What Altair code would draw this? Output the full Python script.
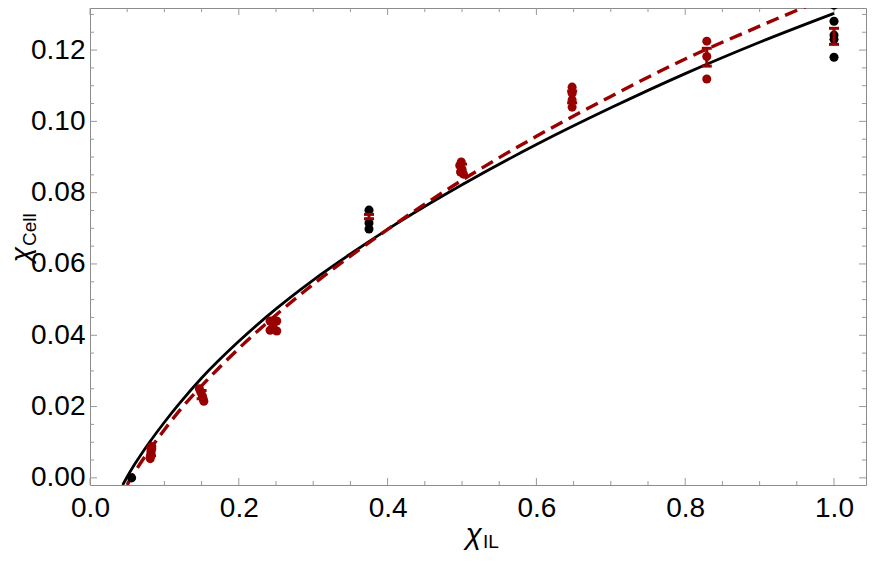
import altair as alt
import pandas as pd

RED = "#990000"
BLACK = "#000000"

# ---- fitted curves ----
black_curve_x = [0.044, 0.05, 0.06, 0.07, 0.08, 0.10, 0.12, 0.15, 0.20, 0.25, 0.30, 0.35, 0.40, 0.50, 0.60, 0.70, 0.80, 0.90, 1.00]
black_curve_y = [-0.0020, 0.0003, 0.0038, 0.0070, 0.0100, 0.0156, 0.0208, 0.0280, 0.0383, 0.0474, 0.0555, 0.0628, 0.0697, 0.0822, 0.0935, 0.1038, 0.1134, 0.1222, 0.1303]

red_curve_x = [0.050, 0.055, 0.06, 0.07, 0.08, 0.10, 0.12, 0.15, 0.20, 0.25, 0.30, 0.35, 0.40, 0.50, 0.60, 0.70, 0.80, 0.90, 1.00]
red_curve_y = [-0.0020, 0.0000, 0.0016, 0.0048, 0.0078, 0.0135, 0.0188, 0.0258, 0.0363, 0.0457, 0.0543, 0.0622, 0.0697, 0.0835, 0.0958, 0.1070, 0.1175, 0.1267, 0.1355]

# ---- measured points ----
black_pts_x = [0.056, 0.375, 0.375, 0.375, 1.0, 1.0, 1.0, 1.0, 1.0]
black_pts_y = [0.0000, 0.0751, 0.0715, 0.0698, 0.1326, 0.1281, 0.1242, 0.1230, 0.1180]

red_pts_x = [0.083, 0.083, 0.082, 0.082, 0.081, 0.081,
             0.147, 0.149, 0.151, 0.152, 0.153,
             0.242, 0.251, 0.246, 0.242, 0.251,
             0.499, 0.497, 0.500, 0.498, 0.502,
             0.648, 0.648, 0.648, 0.648,
             0.829, 0.829, 0.829]
red_pts_y = [0.0088, 0.0082, 0.0075, 0.0068, 0.0060, 0.0054,
             0.0250, 0.0240, 0.0230, 0.0222, 0.0215,
             0.0440, 0.0440, 0.0426, 0.0414, 0.0412,
             0.0886, 0.0876, 0.0866, 0.0858, 0.0852,
             0.1096, 0.1079, 0.1060, 0.1040,
             0.1225, 0.1182, 0.1119]

# ---- red error bars ----
err_x = [0.082, 0.150, 0.247, 0.375, 0.500, 0.648, 0.829, 1.000]
err_lo = [0.0062, 0.0222, 0.0418, 0.0727, 0.0858, 0.1052, 0.1155, 0.1216]
err_hi = [0.0084, 0.0245, 0.0438, 0.0739, 0.0880, 0.1085, 0.1205, 0.1261]

# ---- frame ticks ----
x_major = [0.0, 0.2, 0.4, 0.6, 0.8, 1.0]
x_minor = [0.05, 0.10, 0.15, 0.25, 0.30, 0.35, 0.45, 0.50, 0.55, 0.65, 0.70, 0.75, 0.85, 0.90, 0.95]
y_major = [0.00, 0.02, 0.04, 0.06, 0.08, 0.10, 0.12]
y_minor = [0.005, 0.010, 0.015, 0.025, 0.030, 0.035, 0.045, 0.050, 0.055, 0.065, 0.070, 0.075,
           0.085, 0.090, 0.095, 0.105, 0.110, 0.115, 0.125, 0.130]

W, H = 776, 477
FONT = "Liberation Sans"

xs = alt.Scale(domain=[0, 1.043], nice=False, zero=False)
ys = alt.Scale(domain=[-0.002, 0.1318], nice=False, zero=False)
xax = alt.Axis(values=x_major, format=".1f", title=None, labelFontSize=28, labelFont=FONT,
               labelColor="black", tickSize=0, domain=False, grid=False, labelPadding=9,
               labelFlush=False, labelOverlap=False)
yax = alt.Axis(values=y_major, format=".2f", title=None, labelFontSize=28, labelFont=FONT,
               labelColor="black", tickSize=0, domain=False, grid=False, labelPadding=5,
               labelFlush=False, labelOverlap=False)

def X(f="x"):
    return alt.X(f"{f}:Q", scale=xs, axis=xax)

def Y(f="y"):
    return alt.Y(f"{f}:Q", scale=ys, axis=yax)

black_curve = alt.Chart(pd.DataFrame({"x": black_curve_x, "y": black_curve_y})).mark_line(
    color=BLACK, strokeWidth=2.8, clip=True, interpolate="monotone").encode(x=X(), y=Y())
red_curve = alt.Chart(pd.DataFrame({"x": red_curve_x, "y": red_curve_y})).mark_line(
    color=RED, strokeWidth=3.4, strokeDash=[13, 7], clip=True, interpolate="monotone").encode(x=X(), y=Y())

black_pts = alt.Chart(pd.DataFrame({"x": black_pts_x, "y": black_pts_y})).mark_circle(
    color=BLACK, size=82, opacity=1).encode(x=X(), y=Y())
red_pts = alt.Chart(pd.DataFrame({"x": red_pts_x, "y": red_pts_y})).mark_circle(
    color=RED, size=82, opacity=1).encode(x=X(), y=Y())

err_df = pd.DataFrame({"x": err_x, "lo": err_lo, "hi": err_hi})
err_rule = alt.Chart(err_df).mark_rule(color=RED, strokeWidth=3).encode(
    x=X(), y=alt.Y("lo:Q", scale=ys, axis=yax), y2="hi:Q")
err_cap_lo = alt.Chart(err_df).mark_tick(color=RED, orient="horizontal", size=10, thickness=3, opacity=1).encode(
    x=X(), y=alt.Y("lo:Q", scale=ys, axis=yax))
err_cap_hi = alt.Chart(err_df).mark_tick(color=RED, orient="horizontal", size=10, thickness=3, opacity=1).encode(
    x=X(), y=alt.Y("hi:Q", scale=ys, axis=yax))

TICKC = "#999999"
def xticks(vals, length):
    d = pd.DataFrame({"x": vals})
    b = alt.Chart(d).mark_rule(color=TICKC, strokeWidth=1).encode(
        x=X(), y=alt.value(H), y2=alt.value(H - length))
    t = alt.Chart(d).mark_rule(color=TICKC, strokeWidth=1).encode(
        x=X(), y=alt.value(0), y2=alt.value(length))
    return [b, t]

def yticks(vals, length):
    d = pd.DataFrame({"y": vals})
    l = alt.Chart(d).mark_rule(color=TICKC, strokeWidth=1).encode(
        y=Y(), x=alt.value(0), x2=alt.value(length))
    r = alt.Chart(d).mark_rule(color=TICKC, strokeWidth=1).encode(
        y=Y(), x=alt.value(W), x2=alt.value(W - length))
    return [l, r]

tick_layers = xticks(x_major, 7) + xticks(x_minor, 4) + yticks(y_major, 7) + yticks(y_minor, 4)

one = pd.DataFrame({"a": [0]})
xt_chi = alt.Chart(one).mark_text(text="χ", font=FONT, fontStyle="italic", fontSize=30,
                                  align="right", baseline="alphabetic", color="black").encode(
    x=alt.value(392), y=alt.value(536))
xt_sub = alt.Chart(one).mark_text(text="IL", font=FONT, fontSize=19,
                                  align="left", baseline="alphabetic", color="black").encode(
    x=alt.value(393), y=alt.value(540))
yt_chi = alt.Chart(one).mark_text(text="χ", font=FONT, fontStyle="italic", fontSize=28, angle=270,
                                  align="right", baseline="alphabetic", color="black").encode(
    x=alt.value(-60), y=alt.value(239))
yt_sub = alt.Chart(one).mark_text(text="Cell", font=FONT, fontSize=19, angle=270,
                                  align="left", baseline="alphabetic", color="black").encode(
    x=alt.value(-54), y=alt.value(238))

chart = alt.layer(
    *tick_layers, black_curve, red_curve, black_pts, red_pts, err_rule, err_cap_lo, err_cap_hi,
    xt_chi, xt_sub, yt_chi, yt_sub
).properties(
    width=W, height=H,
    autosize=alt.AutoSizeParams(type="none"),
    padding={"left": 82, "top": 0, "right": 1, "bottom": 70},
).configure_view(stroke="#8c8c8c", strokeWidth=1)

chart.save("out.html", embed_options={"renderer": "svg", "actions": False})
